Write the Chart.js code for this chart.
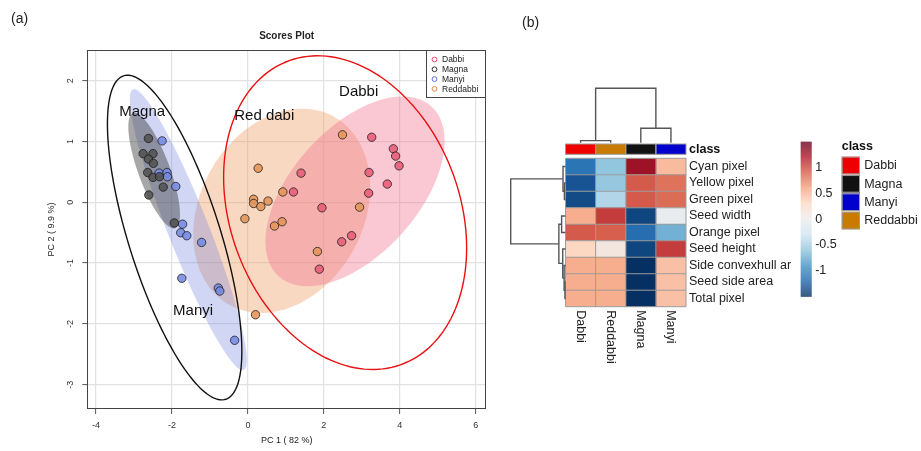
<!DOCTYPE html>
<html>
<head>
<meta charset="utf-8">
<script src="https://cdn.jsdelivr.net/npm/chart.js@4.4.1/dist/chart.umd.min.js"></script>
<style>
  html, body { margin: 0; padding: 0; background: #fff; }
  #wrap { position: relative; width: 921px; height: 451px; overflow: hidden; }
  canvas { position: absolute; top: 0; }
  #pca { left: 0; }
  #heat { left: 500px; }
  .tag { position: absolute; font: 14px "Liberation Sans", Arial, sans-serif; color: #222; }
</style>
</head>
<body>
<div id="wrap">
  <canvas id="pca" width="500" height="451"></canvas>
  <canvas id="heat" width="421" height="451"></canvas>
  <div class="tag" style="left:11px;top:10px">(a)</div>
  <div class="tag" style="left:522px;top:14px">(b)</div>
</div>
<script>
// ---------- PCA scores ----------
const groups = ['Dabbi', 'Magna', 'Manyi', 'Reddabbi'];

const dabbiPC1 = [3.26, 3.83, 3.89, 3.98, 3.19, 3.67, 3.18, 1.40, 1.20, 1.95, 2.73, 2.47, 1.88];
const dabbiPC2 = [1.07, 0.88, 0.76, 0.60, 0.49, 0.30, 0.15, 0.48, 0.17, -0.09, -0.55, -0.65, -1.10];

const magnaPC1 = [-2.62, -2.76, -2.50, -2.62, -2.49, -2.64, -2.50, -2.33, -2.23, -2.61, -1.94];
const magnaPC2 = [1.05, 0.80, 0.80, 0.71, 0.64, 0.49, 0.41, 0.42, 0.25, 0.12, -0.34];

const manyiPC1 = [-2.26, -2.34, -2.13, -2.12, -1.90, -1.72, -1.77, -1.61, -1.22, -1.74, -0.78, -0.74, -0.35];
const manyiPC2 = [1.01, 0.48, 0.49, 0.42, 0.26, -0.36, -0.50, -0.55, -0.66, -1.25, -1.41, -1.46, -2.27];

const reddabbiPC1 = [2.49, 0.27, 0.92, 0.15, 0.15, 0.34, 0.53, -0.08, 0.90, 0.70, 2.94, 1.83, 0.20];
const reddabbiPC2 = [1.11, 0.56, 0.17, 0.05, -0.02, -0.07, 0.02, -0.27, -0.32, -0.39, -0.08, -0.81, -1.85];

const pc1Ticks = [-4, -2, 0, 2, 4, 6];
const pc2Ticks = [-3, -2, -1, 0, 1, 2];

// shaded group regions: centre, half-extents and correlation (PC units)
const regionGroup = ['Reddabbi', 'Dabbi', 'Manyi', 'Magna'];
const regionCx  = [0.89, 2.82, -1.57, -2.47];
const regionCy  = [-0.14, 0.18, -0.45, 0.52];
const regionRx  = [2.33, 2.36, 1.54, 0.68];
const regionRy  = [1.68, 1.56, 2.31, 0.95];
const regionRho = [0.23, 0.53, -0.927, -0.76];

// outlined cluster boundaries
const boundaryGroup = ['Magna', 'Dabbi'];
const boundaryCx  = [-1.93, 2.56];
const boundaryCy  = [-0.58, -0.17];
const boundaryRx  = [1.77, 3.20];
const boundaryRy  = [2.67, 2.58];
const boundaryRho = [-0.70, -0.226];

// cluster captions (PC coordinates of the caption's left end)
const noteText = ['Magna', 'Red dabi', 'Dabbi', 'Manyi'];
const noteX = [-3.39, -0.36, 2.40, -1.97];
const noteY = [1.49, 1.42, 1.81, -1.79];

// ---------- heatmap ----------
const heatCols = ['Dabbi', 'Reddabbi', 'Magna', 'Manyi'];
const heatRows = ['Cyan pixel', 'Yellow pixel', 'Green pixel', 'Seed width', 'Orange pixel',
                  'Seed height', 'Side convexhull ar', 'Seed side area', 'Total pixel'];
const zDabbi    = [-1.10, -1.30, -1.35, 0.55, 0.92, 0.32, 0.55, 0.55, 0.55];
const zReddabbi = [-0.60, -0.58, -0.45, 1.05, 0.90, 0.12, 0.55, 0.55, 0.55];
const zMagna    = [1.28, 0.92, 0.92, -1.38, -1.15, -1.38, -1.50, -1.50, -1.50];
const zManyi    = [0.48, 0.82, 0.85, -0.05, -0.72, 1.05, 0.45, 0.45, 0.45];

// hierarchical merges: [left, right, height]; negative = leaf (1-based), positive = earlier merge
const colMerges = [[-1, -2, 0.35], [-3, -4, 2.5], [1, 2, 9.4]];
const rowMerges = [[-2, -3, 0.2], [-1, 1, 0.45], [-8, -9, 0.1], [-7, 3, 0.25], [-6, 4, 0.5],
                   [-4, -5, 0.7], [6, 5, 1.2], [2, 7, 9.9]];

const legendClasses = ['Dabbi', 'Magna', 'Manyi', 'Reddabbi'];
const colorbarTicks = [1, 0.5, 0, -0.5, -1];
const zLimit = 1.5;

// ---------- styles ----------
const FONT = "'Liberation Sans', Arial, sans-serif";
const pointFill   = { Dabbi: 'rgba(232,92,120,0.88)', Magna: 'rgba(80,80,80,0.85)', Manyi: 'rgba(120,140,226,0.9)', Reddabbi: 'rgba(230,150,90,0.9)' };
const legendInk   = { Dabbi: '#E0506A', Magna: '#333333', Manyi: '#5A70D8', Reddabbi: '#E08A50' };
const regionFill  = { Reddabbi: 'rgba(240,150,90,0.37)', Dabbi: 'rgba(240,110,140,0.38)', Manyi: 'rgba(100,120,220,0.30)', Magna: 'rgba(60,60,60,0.45)' };
const boundaryInk = { Magna: '#111111', Dabbi: '#E81010' };
const classColor  = { Dabbi: '#EE0000', Reddabbi: '#C97A00', Magna: '#111111', Manyi: '#0000CD' };
const rdbu = ['#053061', '#2166AC', '#4393C3', '#92C5DE', '#D1E5F0', '#EDEDED',
              '#FDDBC7', '#F4A582', '#D6604D', '#B2182B', '#67001F'];

function hexRgb(h) { return [1, 3, 5].map(i => parseInt(h.substr(i, 2), 16)); }
function zColor(z) {
  let t = (z + zLimit) / (2 * zLimit) * (rdbu.length - 1);
  t = Math.max(0, Math.min(rdbu.length - 1, t));
  const i = Math.min(rdbu.length - 2, Math.floor(t)), f = t - i;
  const a = hexRgb(rdbu[i]), b = hexRgb(rdbu[i + 1]);
  return 'rgb(' + a.map((v, k) => Math.round(v + (b[k] - v) * f)).join(',') + ')';
}

function ellipsePath(ctx, xs, ys, cx, cy, rx, ry, rho) {
  const k = Math.sqrt(1 - rho * rho);
  ctx.beginPath();
  for (let i = 0; i <= 160; i++) {
    const t = i / 160 * Math.PI * 2, c = Math.cos(t), s = Math.sin(t);
    const px = xs.getPixelForValue(cx + rx * c);
    const py = ys.getPixelForValue(cy + ry * (rho * c + k * s));
    if (i) ctx.lineTo(px, py); else ctx.moveTo(px, py);
  }
  ctx.closePath();
}

// regions, boundaries, frame, captions and legend of the scores plot
const scoresDecor = {
  id: 'scoresDecor',
  beforeDatasetsDraw(chart) {
    const { ctx, chartArea: a, scales: { x, y } } = chart;
    ctx.save();
    ctx.beginPath(); ctx.rect(a.left, a.top, a.width, a.height); ctx.clip();
    regionGroup.forEach((g, i) => {
      ellipsePath(ctx, x, y, regionCx[i], regionCy[i], regionRx[i], regionRy[i], regionRho[i]);
      ctx.fillStyle = regionFill[g]; ctx.fill();
    });
    boundaryGroup.forEach((g, i) => {
      ellipsePath(ctx, x, y, boundaryCx[i], boundaryCy[i], boundaryRx[i], boundaryRy[i], boundaryRho[i]);
      ctx.strokeStyle = boundaryInk[g]; ctx.lineWidth = 1.4; ctx.stroke();
    });
    ctx.restore();
  },
  afterDatasetsDraw(chart) {
    const { ctx, chartArea: a, scales: { x, y } } = chart;
    ctx.save();
    ctx.fillStyle = '#111'; ctx.font = '15px ' + FONT;
    ctx.textAlign = 'left'; ctx.textBaseline = 'middle';
    noteText.forEach((t, i) => ctx.fillText(t, x.getPixelForValue(noteX[i]), y.getPixelForValue(noteY[i])));
    // frame
    ctx.strokeStyle = '#444'; ctx.lineWidth = 1;
    ctx.strokeRect(Math.round(a.left) + 0.5, Math.round(a.top) + 0.5, Math.round(a.width) - 1, Math.round(a.height) - 1);
    // legend box
    const lw = 60, lh = 48, lx = Math.round(a.right) - lw, ly = Math.round(a.top);
    ctx.fillStyle = '#fff'; ctx.fillRect(lx, ly, lw, lh);
    ctx.strokeRect(lx + 0.5, ly + 0.5, lw - 1, lh - 1);
    ctx.font = '8.5px ' + FONT; ctx.fillStyle = '#222';
    groups.forEach((g, i) => {
      const yy = ly + 9.5 + i * 9.8;
      ctx.beginPath(); ctx.arc(lx + 8.5, yy, 2.4, 0, Math.PI * 2);
      ctx.strokeStyle = legendInk[g]; ctx.lineWidth = 1; ctx.stroke();
      ctx.fillText(g, lx + 16, yy + 0.5);
    });
    ctx.restore();
  }
};

const series = [
  ['Dabbi', dabbiPC1, dabbiPC2], ['Magna', magnaPC1, magnaPC2],
  ['Manyi', manyiPC1, manyiPC2], ['Reddabbi', reddabbiPC1, reddabbiPC2]
];

new Chart(document.getElementById('pca'), {
  type: 'scatter',
  data: {
    datasets: series.map(([g, xs, ys]) => ({
      label: g,
      data: xs.map((v, i) => ({ x: v, y: ys[i] })),
      backgroundColor: pointFill[g],
      borderColor: 'rgba(25,25,25,0.85)',
      borderWidth: 0.9,
      pointRadius: 4.2
    }))
  },
  options: {
    responsive: false, animation: false,
    layout: { padding: { left: 0, right: 14, top: 0, bottom: 0 } },
    plugins: {
      legend: { display: false }, tooltip: { enabled: false },
      title: { display: true, text: 'Scores Plot', fullSize: false, color: '#222',
               font: { size: 10, weight: 'bold', family: FONT }, padding: { top: 30, bottom: 8 } }
    },
    scales: {
      x: {
        type: 'linear', min: -4.23, max: 6.27,
        afterBuildTicks(s) { s.ticks = pc1Ticks.map(v => ({ value: v })); },
        grid: { color: '#E2E2E2', lineWidth: 1.2, tickColor: '#555', tickLength: 5, tickWidth: 1 },
        border: { display: false },
        ticks: { font: { size: 9, family: FONT }, color: '#333', padding: 6, maxRotation: 0 },
        title: { display: true, text: 'PC 1 ( 82 %)', color: '#222', font: { size: 9, family: FONT }, padding: { top: 0, bottom: 5 } },
        afterFit(s) { s.height = 42; }
      },
      y: {
        type: 'linear', min: -3.40, max: 2.505,
        afterBuildTicks(s) { s.ticks = pc2Ticks.map(v => ({ value: v })); },
        grid: { color: '#E2E2E2', lineWidth: 1.2, tickColor: '#555', tickLength: 5, tickWidth: 1 },
        border: { display: false },
        ticks: { font: { size: 9, family: FONT }, color: '#333', padding: 8, minRotation: 90, maxRotation: 90, crossAlign: 'center' },
        title: { display: true, text: 'PC 2 ( 9.9 %)', color: '#222', font: { size: 9, family: FONT }, padding: { top: 46, bottom: 0 } },
        afterFit(s) { s.width = 87.3; }
      }
    }
  },
  plugins: [scoresDecor]
});

// ---------- heatmap decorations ----------
function dendroNodes(merges, leafPos) {
  const nodes = [];
  const get = r => r < 0 ? { p: leafPos(-r - 1), h: 0 } : nodes[r - 1];
  merges.forEach(([l, r, h]) => {
    const A = get(l), B = get(r);
    nodes.push({ p: (A.p + B.p) / 2, h, A, B });
  });
  return nodes;
}

const HEAT_FONT = '12.5px ' + FONT;

const heatDecor = {
  id: 'heatDecor',
  afterDatasetsDraw(chart) {
    const { ctx, chartArea: a, scales: { x, y } } = chart;
    const colX = i => x.getPixelForValue(i);
    const colMid = i => x.getPixelForValue(i + 0.5);
    ctx.save();
    // cell grid
    ctx.strokeStyle = '#9C9C9C'; ctx.lineWidth = 1;
    for (let i = 0; i <= heatCols.length; i++) {
      ctx.beginPath(); ctx.moveTo(colX(i), a.top); ctx.lineTo(colX(i), a.bottom); ctx.stroke();
    }
    const rowH = a.height / heatRows.length;
    for (let j = 0; j <= heatRows.length; j++) {
      ctx.beginPath(); ctx.moveTo(a.left, a.top + j * rowH); ctx.lineTo(a.right, a.top + j * rowH); ctx.stroke();
    }
    // class annotation strip
    const sTop = a.top - 14.3, sH = 10.3;
    heatCols.forEach((c, i) => {
      ctx.fillStyle = classColor[c];
      ctx.fillRect(colX(i), sTop, colX(i + 1) - colX(i), sH);
    });
    ctx.strokeStyle = '#9C9C9C';
    heatCols.forEach((c, i) => ctx.strokeRect(colX(i), sTop, colX(i + 1) - colX(i), sH));
    ctx.fillStyle = '#111'; ctx.font = 'bold ' + HEAT_FONT;
    ctx.textAlign = 'left'; ctx.textBaseline = 'middle';
    ctx.fillText('class', a.right + 3, sTop + sH / 2);

    // column labels
    ctx.font = HEAT_FONT; ctx.fillStyle = '#222';
    heatCols.forEach((c, i) => {
      ctx.save(); ctx.translate(colMid(i), a.bottom + 3.5); ctx.rotate(Math.PI / 2);
      ctx.textAlign = 'left'; ctx.textBaseline = 'middle'; ctx.fillText(c, 0, 0); ctx.restore();
    });

    // dendrograms
    ctx.strokeStyle = '#555'; ctx.lineWidth = 1.4;
    const colBase = sTop - 1.3, colSpan = 54.4;
    const colScale = colSpan / colMerges[colMerges.length - 1][2];
    dendroNodes(colMerges, colMid).forEach(n => {
      const yy = colBase - n.h * colScale;
      ctx.beginPath();
      ctx.moveTo(n.A.p, colBase - n.A.h * colScale); ctx.lineTo(n.A.p, yy);
      ctx.lineTo(n.B.p, yy); ctx.lineTo(n.B.p, colBase - n.B.h * colScale);
      ctx.stroke();
    });
    const rowBase = a.left, rowSpan = 54.8;
    const rowScale = rowSpan / rowMerges[rowMerges.length - 1][2];
    const rowMid = j => a.top + (j + 0.5) * rowH;
    dendroNodes(rowMerges, rowMid).forEach(n => {
      const xx = rowBase - n.h * rowScale;
      ctx.beginPath();
      ctx.moveTo(rowBase - n.A.h * rowScale, n.A.p); ctx.lineTo(xx, n.A.p);
      ctx.lineTo(xx, n.B.p); ctx.lineTo(rowBase - n.B.h * rowScale, n.B.p);
      ctx.stroke();
    });

    // colour key
    const kx = 300.7, kw = 11, kTop = 141.7, kBot = 296.7;
    const kScale = (kBot - kTop) / (2 * zLimit), kMid = (kTop + kBot) / 2;
    for (let py = kTop; py < kBot; py++) {
      ctx.fillStyle = zColor((kMid - (py + 0.5)) / kScale);
      ctx.fillRect(kx, py, kw, 1);
    }
    ctx.fillStyle = '#222'; ctx.font = HEAT_FONT; ctx.textAlign = 'left'; ctx.textBaseline = 'middle';
    colorbarTicks.forEach(v => ctx.fillText(String(v), kx + 14.5, kMid - v * kScale));

    // class legend
    const gx = 341.7;
    ctx.font = 'bold ' + HEAT_FONT; ctx.fillStyle = '#111';
    ctx.fillText('class', gx, 147);
    ctx.font = HEAT_FONT;
    legendClasses.forEach((c, i) => {
      const gy = 156.7 + i * 18.35;
      ctx.fillStyle = classColor[c]; ctx.fillRect(gx, gy, 18.3, 17.6);
      ctx.strokeStyle = '#9C9C9C'; ctx.lineWidth = 1; ctx.strokeRect(gx + 0.5, gy + 0.5, 17.3, 16.6);
      ctx.fillStyle = '#222'; ctx.fillText(c, gx + 22.5, gy + 9);
    });
    ctx.restore();
  }
};

const zByCol = [zDabbi, zReddabbi, zMagna, zManyi];

new Chart(document.getElementById('heat'), {
  type: 'bar',
  data: {
    labels: heatRows,
    datasets: heatCols.map((c, i) => ({
      label: c,
      data: heatRows.map(() => 1),
      backgroundColor: zByCol[i].map(zColor),
      borderWidth: 0,
      barPercentage: 1,
      categoryPercentage: 1
    }))
  },
  options: {
    indexAxis: 'y',
    responsive: false, animation: false,
    layout: { padding: { left: 65.5, top: 158.3, bottom: 144.3, right: 0 } },
    plugins: { legend: { display: false }, tooltip: { enabled: false } },
    scales: {
      x: { stacked: true, min: 0, max: heatCols.length, display: false },
      y: {
        stacked: true, position: 'right',
        grid: { display: false, drawTicks: false },
        border: { display: false },
        ticks: { font: { size: 12.5, family: FONT }, color: '#222', padding: 3, crossAlign: 'near', autoSkip: false },
        afterFit(s) { s.width = 235; }
      }
    }
  },
  plugins: [heatDecor]
});
</script>
</body>
</html>
